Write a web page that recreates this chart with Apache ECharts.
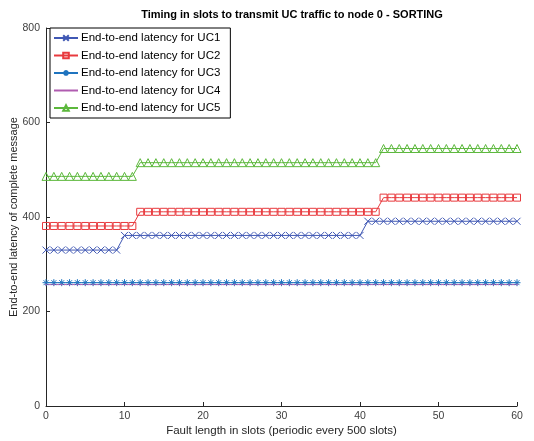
<!DOCTYPE html>
<html>
<head>
<meta charset="utf-8">
<script src="https://cdn.jsdelivr.net/npm/echarts@6/dist/echarts.min.js"></script>
<style>
  html, body { margin: 0; padding: 0; background: #fff; }
  #main { width: 534px; height: 441px; }
</style>
</head>
<body>
<div id="main"></div>
<script>
// fault length (slots)
const faultLen = [
  0, 1, 2, 3, 4, 5, 6, 7, 8, 9,
  10, 11, 12, 13, 14, 15, 16, 17, 18, 19,
  20, 21, 22, 23, 24, 25, 26, 27, 28, 29,
  30, 31, 32, 33, 34, 35, 36, 37, 38, 39,
  40, 41, 42, 43, 44, 45, 46, 47, 48, 49,
  50, 51, 52, 53, 54, 55, 56, 57, 58, 59,
  60
];
const uc1 = [
  330, 330, 330, 330, 330, 330, 330, 330, 330, 330,
  361, 361, 361, 361, 361, 361, 361, 361, 361, 361,
  361, 361, 361, 361, 361, 361, 361, 361, 361, 361,
  361, 361, 361, 361, 361, 361, 361, 361, 361, 361,
  361, 391, 391, 391, 391, 391, 391, 391, 391, 391,
  391, 391, 391, 391, 391, 391, 391, 391, 391, 391,
  391
];
const uc2 = [
  381, 381, 381, 381, 381, 381, 381, 381, 381, 381,
  381, 381, 411, 411, 411, 411, 411, 411, 411, 411,
  411, 411, 411, 411, 411, 411, 411, 411, 411, 411,
  411, 411, 411, 411, 411, 411, 411, 411, 411, 411,
  411, 411, 411, 441, 441, 441, 441, 441, 441, 441,
  441, 441, 441, 441, 441, 441, 441, 441, 441, 441,
  441
];
const uc3 = [
  261, 261, 261, 261, 261, 261, 261, 261, 261, 261,
  261, 261, 261, 261, 261, 261, 261, 261, 261, 261,
  261, 261, 261, 261, 261, 261, 261, 261, 261, 261,
  261, 261, 261, 261, 261, 261, 261, 261, 261, 261,
  261, 261, 261, 261, 261, 261, 261, 261, 261, 261,
  261, 261, 261, 261, 261, 261, 261, 261, 261, 261,
  261
];
const uc4 = [
  257, 257, 257, 257, 257, 257, 257, 257, 257, 257,
  257, 257, 257, 257, 257, 257, 257, 257, 257, 257,
  257, 257, 257, 257, 257, 257, 257, 257, 257, 257,
  257, 257, 257, 257, 257, 257, 257, 257, 257, 257,
  257, 257, 257, 257, 257, 257, 257, 257, 257, 257,
  257, 257, 257, 257, 257, 257, 257, 257, 257, 257,
  257
];
const uc5 = [
  486, 486, 486, 486, 486, 486, 486, 486, 486, 486,
  486, 486, 515, 515, 515, 515, 515, 515, 515, 515,
  515, 515, 515, 515, 515, 515, 515, 515, 515, 515,
  515, 515, 515, 515, 515, 515, 515, 515, 515, 515,
  515, 515, 515, 545, 545, 545, 545, 545, 545, 545,
  545, 545, 545, 545, 545, 545, 545, 545, 545, 545,
  545
];
const seriesNames = [
  'End-to-end latency for UC1',
  'End-to-end latency for UC2',
  'End-to-end latency for UC3',
  'End-to-end latency for UC4',
  'End-to-end latency for UC5'
];

const FONT = 'Liberation Sans, Arial, sans-serif';

// marker shapes (outline only)
const symX = 'path://M0 0L10 10M10 0L0 10';
const symSquare = 'path://M0 0H10V10H0Z';
const symStar = 'path://M5 0V10M0 5H10M1.5 1.5L8.5 8.5M8.5 1.5L1.5 8.5';
const symTri = 'path://M5 0L10 9H0Z';

function mk(name, vals, color, symbol, size) {
  return {
    name: name,
    type: 'line',
    data: faultLen.map((x, i) => [x, vals[i]]),
    symbol: symbol,
    symbolSize: size,
    lineStyle: { color: color, width: 1 },
    itemStyle: { color: 'none', borderColor: color, borderWidth: 1 },
    emphasis: { disabled: true },
    animation: false
  };
}

var myChart = echarts.init(document.getElementById('main'));
myChart.setOption({
  backgroundColor: '#fff',
  title: {
    text: 'Timing in slots to transmit UC traffic to node 0 - SORTING',
    left: 287,
    textAlign: 'center',
    top: 4,
    textStyle: { fontFamily: FONT, fontSize: 11, fontWeight: 'bold', color: '#000' }
  },
  legend: {
    orient: 'vertical',
    left: 50,
    top: 28,
    padding: [4, 10, 4, 3],
    itemWidth: 24,
    itemHeight: 7,
    itemGap: 5.5,
    borderColor: '#000',
    borderWidth: 1,
    backgroundColor: '#fff',
    textStyle: { fontFamily: FONT, fontSize: 11.5, color: '#000', padding: [0, 0, 0, -2] },
    data: [
      seriesNames[0],
      seriesNames[1],
      seriesNames[2],
      { name: seriesNames[3], itemStyle: { borderWidth: 0 } },
      seriesNames[4]
    ]
  },
  grid: { left: 46, right: 17, top: 28, bottom: 35, containLabel: false, outerBoundsMode: 'none' },
  xAxis: {
    type: 'value',
    min: 0,
    max: 60,
    interval: 10,
    name: 'Fault length in slots (periodic every 500 slots)',
    nameLocation: 'middle',
    nameGap: 19,
    nameMoveOverlap: false,
    nameTextStyle: { fontFamily: FONT, fontSize: 11.5, color: '#262626' },
    axisLine: { lineStyle: { color: '#262626', width: 1 } },
    axisTick: { inside: true, length: 4, lineStyle: { color: '#262626' } },
    axisLabel: { fontFamily: FONT, fontSize: 10.5, color: '#404040', margin: 5 },
    splitLine: { show: false }
  },
  yAxis: {
    type: 'value',
    min: 0,
    max: 800,
    interval: 200,
    name: 'End-to-end latency of complete message',
    nameLocation: 'middle',
    nameGap: 27,
    nameMoveOverlap: false,
    nameTextStyle: { fontFamily: FONT, fontSize: 11, color: '#262626' },
    axisLine: { show: true, lineStyle: { color: '#262626', width: 1 } },
    axisTick: { show: true, inside: true, length: 4, lineStyle: { color: '#262626' } },
    axisLabel: { fontFamily: FONT, fontSize: 10.5, color: '#404040', margin: 6 },
    splitLine: { show: false }
  },
  series: [
    mk(seriesNames[0], uc1, '#4058b4', symX, 7),
    mk(seriesNames[1], uc2, '#e83a3e', symSquare, 7),
    mk(seriesNames[2], uc3, '#1f74bf', symStar, 7),
    mk(seriesNames[3], uc4, '#b05cb0', 'circle', 1),
    mk(seriesNames[4], uc5, '#5cb83c', symTri, 8)
  ]
});
</script>
</body>
</html>
